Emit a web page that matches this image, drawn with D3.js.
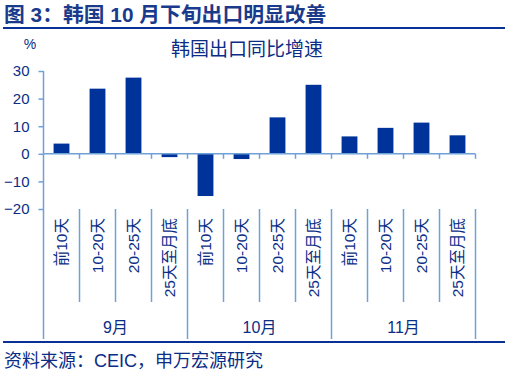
<!DOCTYPE html>
<html>
<head>
<meta charset="utf-8">
<script src="https://cdn.jsdelivr.net/npm/d3@7"></script>
<style>
  body { margin: 0; background: #fff; }
  svg { display: block; font-family: "Liberation Sans", Arial, "Noto Sans CJK SC", sans-serif; }
</style>
</head>
<body>
<div id="chart"></div>
<script>
// data
var months = ["9月", "10月", "11月"];
var periods = ["前10天", "10-20天", "20-25天", "25天至月底"];
var values = [3.7, 23.6, 27.6, -1.2, -15.3, -1.9, 13.2, 25.0, 6.3, 9.4, 11.3, 6.7];
var yTicks = [-20, -10, 0, 10, 20, 30];

var width = 505, height = 375;
var navy = "#0a2d86", axisBlue = "#6fa0d8", barColor = "#003399";
var mixFont = "'Liberation Sans', Arial, 'Noto Sans CJK SC', sans-serif";

var svg = d3.select("#chart").append("svg")
    .attr("width", width)
    .attr("height", height);

//Figure title and rules
svg.append("text")
    .attr("x", 4).attr("y", 22)
    .style("font-size", "20.8px").style("font-weight", "bold")
    .style("font-family", mixFont)
    .attr("fill", "#1a3a8c")
    .text("图 3：韩国 10 月下旬出口明显改善");

svg.append("line").attr("x1", 3).attr("x2", width).attr("y1", 28).attr("y2", 28)
    .attr("stroke", "#0a3296").attr("stroke-width", 2);
svg.append("line").attr("x1", 3).attr("x2", width).attr("y1", 342).attr("y2", 342)
    .attr("stroke", "#0a3296").attr("stroke-width", 2);

svg.append("text")
    .attr("x", 4).attr("y", 367)
    .style("font-size", "18px")
    .style("font-family", mixFont)
    .attr("fill", navy)
    .text("资料来源：CEIC，申万宏源研究");

//Chart title and unit
svg.append("text")
    .attr("x", 247).attr("y", 56)
    .attr("text-anchor", "middle")
    .style("font-size", "19px")
    .style("font-family", mixFont)
    .attr("fill", navy)
    .text("韩国出口同比增速");

svg.append("text")
    .attr("x", 30).attr("y", 49)
    .attr("text-anchor", "middle")
    .style("font-size", "14px")
    .attr("fill", navy)
    .text("%");

//Scales
var categories = [];
months.forEach(function (m) {
    periods.forEach(function (p) {
        categories.push(m + "|" + p);
    });
});

var x = d3.scaleBand()
    .domain(categories)
    .range([43.5, 475.5])
    .paddingInner(0.56)
    .paddingOuter(0.28);

var y = d3.scaleLinear()
    .domain([-20, 30])
    .range([209, 71]);

var step = x.step();
var x0 = 43.5;

//Y axis
var yAxis = d3.axisLeft(y).tickValues(yTicks).tickSize(5).tickPadding(9);
var gy = svg.append("g").attr("transform", "translate(" + x0 + ",0)").call(yAxis);
gy.select(".domain").remove();
gy.selectAll("line").attr("stroke", axisBlue).attr("stroke-width", 1.5);
gy.selectAll("text").attr("fill", navy).style("font-size", "15px");
svg.append("line").attr("x1", x0).attr("x2", x0).attr("y1", y(30)).attr("y2", 339)
    .attr("stroke", axisBlue).attr("stroke-width", 1.5);

//Bars
svg.selectAll(".bar")
    .data(values)
    .enter()
    .append("rect")
    .attr("class", "bar")
    .attr("x", function (d, i) { return x(categories[i]); })
    .attr("width", x.bandwidth())
    .attr("y", function (d) { return y(Math.max(0, d)); })
    .attr("height", function (d) { return Math.abs(y(d) - y(0)); })
    .attr("fill", barColor);

//Zero line with ticks
svg.append("line").attr("x1", x0).attr("x2", x0 + step * categories.length)
    .attr("y1", y(0)).attr("y2", y(0))
    .attr("stroke", axisBlue).attr("stroke-width", 1.5);

svg.selectAll(".zeroTick")
    .data(categories)
    .enter()
    .append("line")
    .attr("x1", function (d, i) { return x0 + step * (i + 1); })
    .attr("x2", function (d, i) { return x0 + step * (i + 1); })
    .attr("y1", y(0)).attr("y2", y(0) + 5)
    .attr("stroke", axisBlue).attr("stroke-width", 1.5);

//Category dividers below the plot
svg.selectAll(".divider")
    .data(categories)
    .enter()
    .append("line")
    .attr("x1", function (d, i) { return x0 + step * (i + 1); })
    .attr("x2", function (d, i) { return x0 + step * (i + 1); })
    .attr("y1", y(-20))
    .attr("y2", function (d, i) { return (i + 1) % periods.length === 0 ? 339 : 302; })
    .attr("stroke", axisBlue).attr("stroke-width", 1.5);

//Rotated period labels
svg.selectAll(".periodLabel")
    .data(categories)
    .enter()
    .append("text")
    .attr("class", "periodLabel")
    .attr("transform", function (d) {
        return "translate(" + (x(d) + x.bandwidth() / 2) + "," + 218 + ") rotate(-90)";
    })
    .attr("text-anchor", "end")
    .attr("dominant-baseline", "central")
    .style("font-size", "15.5px")
    .style("font-family", mixFont)
    .attr("fill", navy)
    .text(function (d) { return d.split("|")[1]; });

//Month labels
svg.selectAll(".monthLabel")
    .data(months)
    .enter()
    .append("text")
    .attr("x", function (d, i) { return x0 + step * periods.length * (i + 0.5); })
    .attr("y", 327)
    .attr("text-anchor", "middle")
    .attr("dominant-baseline", "central")
    .style("font-size", "16px")
    .style("font-family", mixFont)
    .attr("fill", navy)
    .text(function (d) { return d; });
</script>
</body>
</html>
